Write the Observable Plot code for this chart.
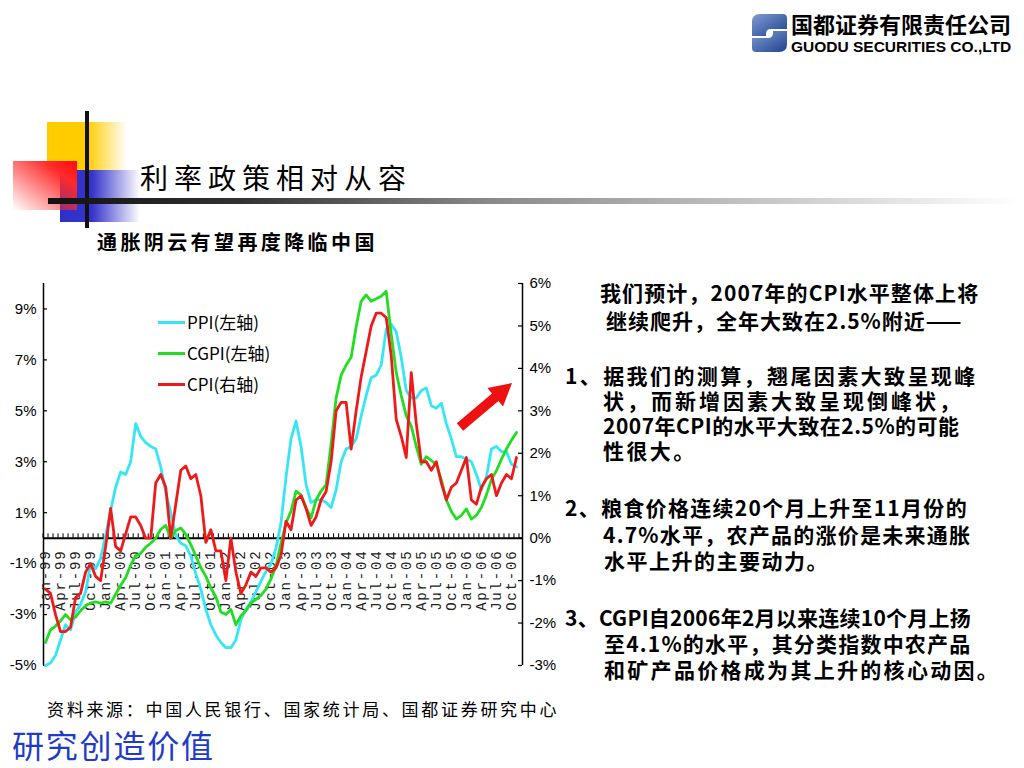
<!DOCTYPE html>
<html><head><meta charset="utf-8">
<script src="https://cdn.jsdelivr.net/npm/d3@7"></script>
<script src="https://cdn.jsdelivr.net/npm/@observablehq/plot@0.6"></script>
<style>
body{margin:0;background:#fff;}
#page{position:relative;width:1024px;height:768px;overflow:hidden;background:#fff;font-family:"Noto Sans CJK SC",sans-serif;color:#000;}
.t{position:absolute;white-space:nowrap;}
.rt{font-size:21px;font-weight:700;line-height:21px;}
.lg{font-size:17px;line-height:17px;font-family:"Noto Sans CJK SC",sans-serif;}
#chart{position:absolute;left:0;top:270px;}
</style></head>
<body><div id="page">
<svg class="t" style="left:0;top:0" width="1024" height="768">
 <defs>
  <linearGradient id="gy" x1="0" x2="1"><stop offset="0" stop-color="#FFCC00"/><stop offset="0.5" stop-color="#FFCC00"/><stop offset="1" stop-color="#FFCC00" stop-opacity="0"/></linearGradient>
  <linearGradient id="gb" x1="0" x2="1"><stop offset="0" stop-color="#2F2FCC"/><stop offset="0.4" stop-color="#3434CC"/><stop offset="1" stop-color="#3434CC" stop-opacity="0"/></linearGradient>
  <linearGradient id="gr" x1="1" y1="0" x2="0" y2="1"><stop offset="0" stop-color="#FF0A0A"/><stop offset="0.25" stop-color="#FF2A2A"/><stop offset="1" stop-color="#FF2A2A" stop-opacity="0"/></linearGradient>
  <linearGradient id="gl" x1="0" x2="1"><stop offset="0" stop-color="#111"/><stop offset="0.2" stop-color="#333"/><stop offset="0.45" stop-color="#888"/><stop offset="1" stop-color="#fff"/></linearGradient>
  <linearGradient id="glogo" x1="0" y1="0" x2="1" y2="1"><stop offset="0" stop-color="#7f9bd0"/><stop offset="1" stop-color="#1f4391"/></linearGradient>
 </defs>
 <rect x="47" y="122" width="80" height="48" fill="url(#gy)"/>
 <rect x="60" y="170" width="80" height="52" fill="url(#gb)"/>
 <rect x="13" y="161" width="64" height="49" fill="url(#gr)"/>
 <rect x="85" y="111" width="4" height="117" fill="#111"/>
 <rect x="48" y="198" width="970" height="6" fill="url(#gl)"/>
 <path d="M760,14 H783 Q787,14 787,18 V29 H771 Q766,29 766,34 V36 H752 V22 Q752,14 760,14 Z" fill="url(#glogo)"/>
 <path d="M779,52 H756 Q752,52 752,48 V38 H768 Q773,38 773,33 V31 H787 V44 Q787,52 779,52 Z" fill="url(#glogo)"/>
 <polygon points="463.2,430.8 498.4,401.0 503.0,406.4 512,383 487.4,388.0 492.0,393.4 456.8,423.2" fill="#EE1111"/>
</svg>

<div class="t" style="left:791px;top:12px;font-size:22px;line-height:22px;font-weight:700;">国都证券有限责任公司</div>
<div class="t" style="left:791px;top:39px;font-size:15.5px;line-height:15px;font-weight:700;font-family:'Liberation Sans',Arial,sans-serif;">GUODU SECURITIES CO.,LTD</div>

<div class="t" style="left:140px;top:163px;font-size:28px;line-height:28px;letter-spacing:6px;">利率政策相对从容</div>
<div class="t" style="left:97px;top:232px;font-size:20px;line-height:20px;letter-spacing:3.4px;font-weight:700;">通胀阴云有望再度降临中国</div>

<div id="chart"></div>

<div id="legend"></div>

<div class="t rt" style="left:600px;top:282px;letter-spacing:1.1px;">我们预计，2007年的CPI水平整体上将</div>
<div class="t rt" style="left:606px;top:310px;letter-spacing:1px;">继续爬升，全年大致在2.5%附近——</div>
<div class="t rt" style="left:565px;top:365px;letter-spacing:2.4px;">1、据我们的测算，翘尾因素大致呈现峰</div>
<div class="t rt" style="left:603px;top:390px;letter-spacing:3px;">状，而新增因素大致呈现倒峰状，</div>
<div class="t rt" style="left:603px;top:415px;letter-spacing:0.5px;">2007年CPI的水平大致在2.5%的可能</div>
<div class="t rt" style="left:603px;top:440px;letter-spacing:2.4px;">性很大。</div>
<div class="t rt" style="left:565px;top:497px;letter-spacing:1.3px;">2、粮食价格连续20个月上升至11月份的</div>
<div class="t rt" style="left:603px;top:524px;letter-spacing:1.25px;">4.7%水平，农产品的涨价是未来通胀</div>
<div class="t rt" style="left:604px;top:550px;letter-spacing:1.5px;">水平上升的主要动力。</div>
<div class="t rt" style="left:565px;top:607px;letter-spacing:0.25px;">3、CGPI自2006年2月以来连续10个月上扬</div>
<div class="t rt" style="left:604px;top:633px;letter-spacing:1.2px;">至4.1%的水平，其分类指数中农产品</div>
<div class="t rt" style="left:604px;top:659px;letter-spacing:2.3px;">和矿产品价格成为其上升的核心动因。</div>

<div class="t" style="left:47px;top:700px;font-size:17px;line-height:17px;letter-spacing:2.7px;">资料来源：中国人民银行、国家统计局、国都证券研究中心</div>
<div class="t" style="left:12px;top:728px;font-size:32px;line-height:32px;letter-spacing:1.8px;color:#1E3CC8;">研究创造价值</div>
</div>

<script>
// Monthly year-on-year change (%), Jan-1999 .. Nov-2006
const ppi = [
 -5.0,-4.9,-4.6,-4.0,-3.4,-3.6,-2.9,-2.6,-2.1,-1.0,-1.2,-0.8,
  0.1, 1.1, 2.0, 2.6, 2.5, 3.0, 4.5, 4.0, 3.75,3.6, 3.5, 2.8,
  1.8, 1.0, 0.1,-0.2,-0.3,-0.7,-1.4,-2.0,-2.8,-3.4,-3.8,-4.1,
 -4.3,-4.3,-4.0,-3.2,-2.8,-2.5,-2.1,-1.7,-1.3,-1.0,-0.4, 0.6,
  2.4, 3.9, 4.6, 3.6, 2.1, 1.4, 1.5, 1.5, 1.4, 1.2, 1.9, 3.0,
  3.5, 3.6, 3.9, 4.8, 5.6, 6.3, 6.4, 6.8, 8.2, 8.4, 8.1, 7.1,
  5.8, 5.5, 5.5, 5.8, 5.9, 5.2, 5.1, 5.3, 4.5, 3.9, 3.2, 3.2,
  3.1, 3.0, 2.5, 1.9, 2.4, 3.5, 3.6, 3.4, 3.4, 2.9, 2.8
];
const cgpi = [
 -4.1,-3.6,-3.45,-3.25,-3.0,-3.2,-3.1,-2.85,-2.65,-2.55,-2.5,-2.55,
 -2.5,-2.55,-2.2,-1.85,-1.55,-1.05,-0.7,-0.6,-0.35,-0.2, 0.0, 0.35,
  0.5, 0.0, 0.3, 0.4, 0.15,-0.25,-0.7,-1.15,-1.5,-1.95,-2.3,-2.9,
 -3.0,-2.8,-3.4,-3.05,-2.85,-2.55,-2.4,-2.25,-2.0,-1.6,-1.1,-0.2,
  0.6, 1.05, 1.85, 1.7, 1.2, 0.8, 1.5, 1.85, 2.1, 3.7, 5.5, 6.4,
  6.8, 7.1, 8.3, 9.3, 9.55, 9.3, 9.4, 9.5, 9.7, 8.0, 6.5, 5.6,
  4.8, 4.4, 3.6, 2.9, 3.2, 3.05, 2.9, 2.3, 1.5, 1.05, 0.75, 0.9,
  1.15, 0.75, 0.9, 1.2, 1.7, 2.3, 2.65, 3.1, 3.5, 3.85, 4.15
];
const cpi = [
 -1.2,-1.3,-1.8,-2.2,-2.2,-2.1,-1.4,-1.3,-0.8,-0.6,-0.9,-1.0,
 -0.2, 0.7,-0.2,-0.3, 0.1, 0.5, 0.5, 0.3, 0.0, 0.0, 1.3, 1.5,
  1.2, 0.0, 0.8, 1.6, 1.7, 1.4, 1.5, 1.0,-0.1, 0.2,-0.3,-0.3,
 -1.0, 0.0,-0.8,-1.3,-1.1,-0.8,-0.9,-0.7,-0.7,-0.8,-0.7,-0.4,
  0.4, 0.2, 0.9, 1.0, 0.7, 0.3, 0.5, 0.9, 1.1, 1.8, 3.0, 3.2,
  3.2, 2.1, 3.0, 3.8, 4.4, 5.0, 5.3, 5.3, 5.2, 4.3, 2.8, 2.4,
  1.9, 3.9, 2.7, 1.8, 1.8, 1.6, 1.8, 1.3, 0.9, 1.2, 1.3, 1.6,
  1.9, 0.9, 0.8, 1.2, 1.4, 1.5, 1.0, 1.3, 1.5, 1.4, 1.9
];
const tickLabels = [
 "Jan-99","Apr-99","Jul-99","Oct-99","Jan-00","Apr-00","Jul-00","Oct-00",
 "Jan-01","Apr-01","Jul-01","Oct-01","Jan-02","Apr-02","Jul-02","Oct-02",
 "Jan-03","Apr-03","Jul-03","Oct-03","Jan-04","Apr-04","Jul-04","Oct-04",
 "Jan-05","Apr-05","Jul-05","Oct-05","Jan-06","Apr-06","Jul-06","Oct-06"
];
const leftTicks = [-5,-3,-1,1,3,5,7,9];
const rightTicks = [-3,-2,-1,0,1,2,3,4,5,6];
const seriesNames = ["PPI(左轴)","CGPI(左轴)","CPI(右轴)"];
const colors = ["#35E6F4","#22DD22","#EE1A1A"];

const k = 5/3; // right axis [-3,6] mapped onto left axis [-5,10]
const rows = ppi.map((v,i)=>({m:i, ppi:v, cgpi:cgpi[i], cpi:cpi[i]}));
const x0 = -0.4, x1 = rows.length + 0.2;

const chart = Plot.plot({
  width: 580, height: 420,
  marginLeft: 43, marginRight: 58, marginTop: 13, marginBottom: 25,
  x: {type:"linear", domain:[x0, x1], axis:null},
  y: {domain:[-5,10], axis:null},
  style: {background:"transparent", overflow:"visible", fontFamily:"'Liberation Sans Narrow','Liberation Sans',Arial,sans-serif", fontSize:"15px", color:"#000"},
  marks: [
    Plot.axisY({anchor:"left", ticks:leftTicks, tickFormat:d=>d+"%", tickSize:0, tickPadding:7, fontSize:15}),
    Plot.axisY({anchor:"right", ticks:rightTicks.map(v=>v*k), tickFormat:d=>Math.round(d/k)+"%", tickSize:0, tickPadding:7, fontSize:15}),
    Plot.ruleX([x0], {stroke:"#000", strokeWidth:1.5}),
    Plot.ruleX([x1], {stroke:"#000", strokeWidth:1.5}),
    Plot.ruleY(leftTicks, {y:d=>d, x1:x0, x2:x0+0.8, stroke:"#000", strokeWidth:1.2}),
    Plot.ruleY(rightTicks, {y:d=>d*k, x1:x1-0.8, x2:x1, stroke:"#000", strokeWidth:1.2}),
    Plot.ruleY([0], {stroke:"#000", strokeWidth:2}),
    Plot.ruleX(d3.range(rows.length+1), {x:d=>d-0.5, y1:0, y2:0.17, stroke:"#000", strokeWidth:1}),
    Plot.text(tickLabels, {x:(d,i)=>i*3, y:-0.45, text:d=>d, rotate:-90, textAnchor:"end", fontSize:14, fontFamily:"'Liberation Mono',monospace", fill:"#222"}),
    Plot.line(rows, {x:"m", y:"ppi", stroke:colors[0], strokeWidth:2.8}),
    Plot.line(rows, {x:"m", y:"cgpi", stroke:colors[1], strokeWidth:2.8}),
    Plot.line(rows, {x:"m", y:d=>d.cpi*k, stroke:colors[2], strokeWidth:2.8})
  ]
});
document.getElementById("chart").appendChild(chart);
chart.querySelectorAll('g[aria-label="text"] text').forEach(t=>t.style.letterSpacing="1.8px");

// legend
const lg = document.getElementById("legend");
const tops = [322, 353, 384];
seriesNames.forEach((name,i)=>{
  const sw = document.createElement("div");
  sw.className = "t";
  sw.style.cssText = `left:158px;top:${tops[i]-1.5}px;width:27px;height:3px;background:${colors[i]};`;
  lg.appendChild(sw);
  const tx = document.createElement("div");
  tx.className = "t lg";
  tx.style.left = "187px"; tx.style.top = (tops[i]-9)+"px";
  tx.textContent = name;
  lg.appendChild(tx);
});
</script>
</body></html>
